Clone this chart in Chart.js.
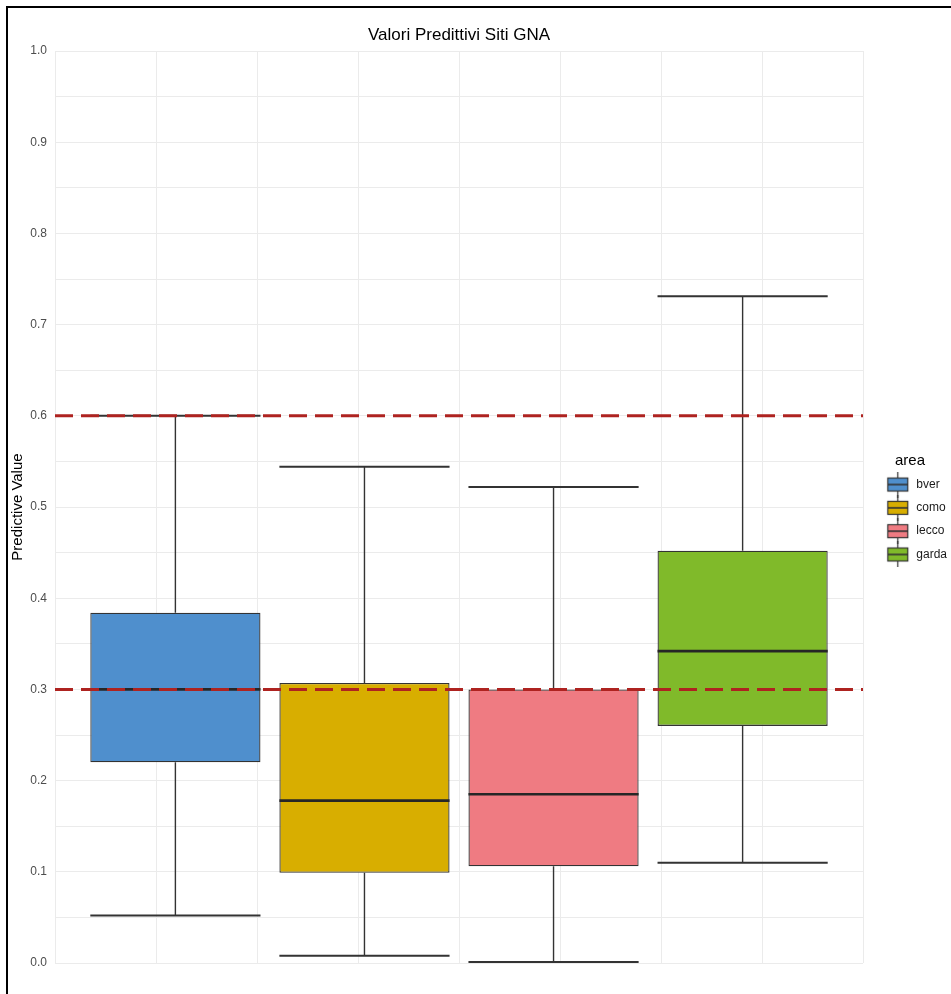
<!DOCTYPE html>
<html>
<head>
<meta charset="utf-8">
<title>Valori Predittivi Siti GNA</title>
<script src="https://cdn.jsdelivr.net/npm/chart.js@4"></script>
<style>
  html, body { margin: 0; padding: 0; background: #fff; }
  #wrap { position: relative; width: 951px; height: 994px; }
</style>
</head>
<body>
<div id="wrap"><canvas id="c" width="951" height="994"></canvas></div>
<script>
// ---- data -------------------------------------------------------------
const areas       = ['bver', 'como', 'lecco', 'garda'];
const whiskerLow  = [0.052, 0.008, 0.001, 0.110];
const quartile1   = [0.220, 0.099, 0.106, 0.260];
const median      = [0.300, 0.178, 0.185, 0.342];
const quartile3   = [0.384, 0.307, 0.300, 0.452];
const whiskerHigh = [0.600, 0.544, 0.522, 0.731];
const thresholds  = [0.3, 0.6];
const yTickLabels = ['0.0', '0.1', '0.2', '0.3', '0.4', '0.5', '0.6', '0.7', '0.8', '0.9', '1.0'];

// ---- styling ----------------------------------------------------------
const areaColors = ['#4F8FCD', '#D8AE00', '#EF7B82', '#80BA2A'];
const INK = '#333333';
const GRID = '#EBEBEB';
const X_MIN = -0.5, X_MAX = 0.5;   // panel range on the x axis
const DODGE = 0.234;               // distance between neighbouring boxes
const xPos = areas.map((_, i) => (i - (areas.length - 1) / 2) * DODGE);

Chart.defaults.font.family = '"Liberation Sans", Arial, Helvetica, sans-serif';

// small boxplot glyph used as legend key
function legendIcon(color) {
  const c = document.createElement('canvas');
  c.width = 36; c.height = 26;
  const g = c.getContext('2d');
  const x0 = 13.5, w = 20, y0 = 6.5, h = 13, cx = x0 + w / 2;
  g.strokeStyle = INK;
  g.lineWidth = 1.2;
  g.beginPath();
  g.moveTo(cx, 0); g.lineTo(cx, y0);
  g.moveTo(cx, y0 + h); g.lineTo(cx, 26);
  g.stroke();
  g.fillStyle = color;
  g.fillRect(x0, y0, w, h);
  g.strokeRect(x0, y0, w, h);
  g.lineWidth = 1.6;
  g.beginPath();
  g.moveTo(x0, y0 + h / 2); g.lineTo(x0 + w, y0 + h / 2);
  g.stroke();
  return c;
}
const legendIcons = areaColors.map(legendIcon);

// ---- datasets ---------------------------------------------------------
const boxSets = areas.map((name, i) => ({
  type: 'bar',
  label: name,
  data: [{ x: xPos[i], y: [quartile1[i], quartile3[i]] }],
  backgroundColor: areaColors[i],
  borderColor: INK,
  borderWidth: 1.3,
  borderSkipped: false,
  grouped: false,
  categoryPercentage: 1,
  barPercentage: 0.9,
  xAxisID: 'xb',
  yAxisID: 'y',
  order: 1
}));

const refSets = thresholds.map(t => ({
  type: 'line',
  label: 'soglia ' + t,
  data: [{ x: X_MIN, y: t }, { x: X_MAX, y: t }],
  borderColor: '#AE2320',
  borderWidth: 3,
  borderDash: [18, 8],
  pointRadius: 0,
  fill: false,
  xAxisID: 'x',
  yAxisID: 'y',
  order: 0
}));

// whiskers, caps and median drawn right after each box
const whiskerPlugin = {
  id: 'whiskers',
  afterDatasetDraw(chart, args) {
    const i = args.index;
    if (i >= areas.length) return;
    const bar = args.meta.data[0];
    if (!bar) return;
    const { x, width } = bar.getProps(['x', 'width'], true);
    const ys = chart.scales.y;
    const ctx = chart.ctx;
    const l = x - width / 2, r = x + width / 2;
    const py = v => ys.getPixelForValue(v);
    ctx.save();
    ctx.strokeStyle = INK;
    ctx.lineWidth = 1.4;
    ctx.beginPath();
    ctx.moveTo(x, py(whiskerHigh[i])); ctx.lineTo(x, py(quartile3[i]));
    ctx.moveTo(x, py(quartile1[i]));   ctx.lineTo(x, py(whiskerLow[i]));
    ctx.stroke();
    ctx.lineWidth = 2;
    ctx.beginPath();
    ctx.moveTo(l, py(whiskerHigh[i])); ctx.lineTo(r, py(whiskerHigh[i]));
    ctx.moveTo(l, py(whiskerLow[i]));  ctx.lineTo(r, py(whiskerLow[i]));
    ctx.stroke();
    ctx.strokeStyle = '#262626';
    ctx.lineWidth = 2.6;
    ctx.beginPath();
    ctx.moveTo(l, py(median[i])); ctx.lineTo(r, py(median[i]));
    ctx.stroke();
    ctx.restore();
  }
};

// white page with a thin frame on the top and left
const framePlugin = {
  id: 'frame',
  beforeDraw(chart) {
    const ctx = chart.ctx;
    ctx.save();
    ctx.fillStyle = '#fff';
    ctx.fillRect(0, 0, chart.width, chart.height);
    ctx.strokeStyle = '#000';
    ctx.lineWidth = 2;
    ctx.beginPath();
    ctx.moveTo(7, chart.height);
    ctx.lineTo(7, 7);
    ctx.lineTo(chart.width, 7);
    ctx.stroke();
    ctx.restore();
  }
};

new Chart(document.getElementById('c'), {
  type: 'bar',
  data: { datasets: [...boxSets, ...refSets] },
  plugins: [framePlugin, whiskerPlugin],
  options: {
    responsive: false,
    animation: false,
    devicePixelRatio: 1,
    layout: { padding: { left: 0, right: -6, top: 0, bottom: 31 } },
    scales: {
      x: {
        type: 'linear', position: 'bottom', min: X_MIN, max: X_MAX, offset: false,
        ticks: { display: false, stepSize: 0.125 },
        grid: { color: GRID, lineWidth: 1, drawTicks: false, offset: false },
        border: { display: false }
      },
      xb: {
        type: 'linear', position: 'bottom', min: X_MIN, max: X_MAX, offset: false,
        display: false, grid: { offset: false },
        afterBuildTicks: s => { s.ticks = [{ value: X_MIN }, { value: X_MAX }]; }
      },
      y: {
        type: 'linear', min: 0, max: 1,
        afterFit: s => { s.width = 55; },
        ticks: {
          stepSize: 0.05, autoSkip: false, padding: 8,
          color: '#4D4D4D', font: { size: 12 },
          callback: v => {
            const k = Math.round(v * 20);
            return k % 2 === 0 ? yTickLabels[k / 2] : '';
          }
        },
        grid: { color: GRID, lineWidth: 1, drawTicks: false },
        border: { display: false },
        title: {
          display: true, text: 'Predictive Value', color: '#000',
          font: { size: 15 }, padding: { top: 9, bottom: 0 }
        }
      }
    },
    plugins: {
      tooltip: { enabled: false },
      title: {
        display: true, text: 'Valori Predittivi Siti GNA', fullSize: false,
        color: '#000', font: { size: 17, weight: 'normal' },
        padding: { top: 25, bottom: 5.6 }
      },
      legend: {
        position: 'right', align: 'center',
        title: {
          display: true, text: 'area', position: 'center', color: '#000',
          font: { size: 15 }, padding: { top: 62, bottom: -4 }
        },
        labels: {
          usePointStyle: true, pointStyleWidth: 36, padding: 11.3,
          color: '#1A1A1A', font: { size: 12 },
          generateLabels: () => areas.map((name, i) => ({
            text: name, datasetIndex: i, pointStyle: legendIcons[i],
            fillStyle: areaColors[i], strokeStyle: INK, lineWidth: 0,
            hidden: false, fontColor: '#1A1A1A'
          }))
        }
      }
    }
  }
});
</script>
</body>
</html>
